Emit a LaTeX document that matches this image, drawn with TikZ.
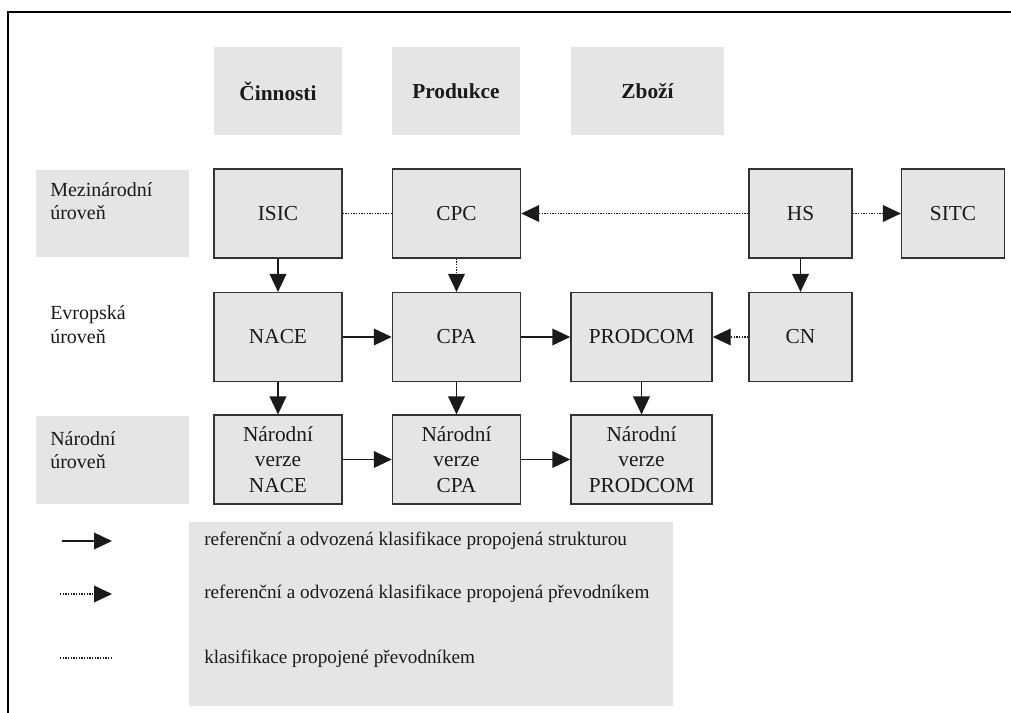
\documentclass[tikz,border=0pt]{standalone}
\usepackage{fontspec}
\setmainfont{Liberation Serif}
\usetikzlibrary{arrows.meta}
\definecolor{boxgray}{HTML}{E5E5E5}
\definecolor{edge}{HTML}{333333}
\definecolor{ink}{HTML}{1A1A1A}
\begin{document}
\begin{tikzpicture}[x=0.75pt,y=-0.75pt,
  box/.style={draw=edge, line width=1.1pt, fill=boxgray, inner sep=0pt,
    text=ink, align=center, font=\fontsize{16}{19}\selectfont},
  wbox/.style={box, minimum width=96pt, minimum height=66.5pt},
  nbox/.style={box, minimum width=77pt, minimum height=66.5pt},
  pbox/.style={box, minimum width=105.75pt, minimum height=66.5pt},
  headbox/.style={fill=boxgray, inner sep=0pt, minimum height=66pt,
    text=ink, font=\fontsize{16}{18.5}\selectfont\bfseries},
  lvlbox/.style={fill=boxgray, inner sep=0pt, minimum width=114.75pt, minimum height=65.5pt},
  lvltext/.style={anchor=base west, inner sep=0pt, text=ink, font=\fontsize{15}{17.5}\selectfont},
  legtext/.style={anchor=west, inner sep=0pt, text=ink, font=\fontsize{14.4}{16}\selectfont},
  conn/.style={line width=1.1pt, color=ink},
  solidarrow/.style={conn, -{Triangle[length=13.5pt, width=12.5pt]}},
  dotline/.style={conn, line width=1pt, dash pattern=on 1pt off 1pt},
  dotarrow/.style={dotline, -{Triangle[length=13.5pt, width=12.5pt]}},
]
\useasboundingbox (0,0) rectangle (1011,713);
% frame
\draw[line width=1.8pt, color=black] (8,713) -- (8,12) -- (1011,12);

% header boxes
\node[headbox, minimum width=96pt] (hcin) at (278,91) {Činnosti};
\node[headbox, minimum width=96pt] (hpro) at (456,91) {Produkce};
\node[headbox, minimum width=114.75pt] (hzbo) at (647.5,91) {Zboží};

% level label boxes
\node[lvlbox] (lmez) at (112.5,213.5) {};
\node[lvltext] (lmez1) at (50,197) {Mezinárodní};
\node[lvltext] (lmez2) at (50,220) {úroveň};
\node[lvltext] (levr1) at (50,320) {Evropská};
\node[lvltext] (levr2) at (50,344) {úroveň};
\node[lvlbox] (lnar) at (112.5,460) {};
\node[lvltext] (lnar1) at (50,445) {Národní};
\node[lvltext] (lnar2) at (50,468) {úroveň};

% row 1
\node[wbox] (isic) at (278,213.5) {ISIC};
\node[wbox] (cpc) at (456.5,213.5) {CPC};
\node[nbox] (hs) at (800.5,213.5) {HS};
\node[nbox] (sitc) at (953,213.5) {SITC};
% row 2
\node[wbox] (nace) at (278,337) {NACE};
\node[wbox] (cpa) at (456.5,337) {CPA};
\node[pbox] (prodcom) at (641.5,337) {PRODCOM};
\node[nbox] (cn) at (800.5,337) {CN};
% row 3
\node[wbox] (nvnace) at (278,459.5) {Národní\\verze\\NACE};
\node[wbox] (nvcpa) at (456.5,459.5) {Národní\\verze\\CPA};
\node[pbox] (nvprodcom) at (641.5,459.5) {Národní\\verze\\PRODCOM};

% connectors
\draw[dotline] (isic) -- (cpc);
\draw[dotarrow] (hs) -- (cpc);
\draw[dotarrow] (hs) -- (sitc);
\draw[solidarrow] (isic) -- (nace);
\draw[dotarrow] (cpc) -- (cpa);
\draw[solidarrow] (hs) -- (cn);
\draw[solidarrow] (nace) -- (cpa);
\draw[solidarrow] (cpa) -- (prodcom);
\draw[dotarrow] (cn) -- (prodcom);
\draw[solidarrow] (nace) -- (nvnace);
\draw[solidarrow] (cpa) -- (nvcpa);
\draw[solidarrow] (prodcom) -- (nvprodcom);
\draw[solidarrow] (nvnace) -- (nvcpa);
\draw[solidarrow] (nvcpa) -- (nvprodcom);

% legend
\fill[boxgray] (189,522) rectangle (673,706);
\coordinate (s1a) at (62,541);
\coordinate (s1b) at (112,541);
\coordinate (s2a) at (60,594);
\coordinate (s2b) at (112,594);
\coordinate (s3a) at (60,658);
\coordinate (s3b) at (112,658);
\draw[solidarrow] (s1a) -- (s1b);
\draw[dotarrow] (s2a) -- (s2b);
\draw[dotline] (s3a) -- (s3b);
\node[legtext] (t1) at (204,541) {referenční a odvozená klasifikace propojená strukturou};
\node[legtext] (t2) at (204,594) {referenční a odvozená klasifikace propojená převodníkem};
\node[legtext] (t3) at (204,659) {klasifikace propojené převodníkem};
\end{tikzpicture}
\end{document}
